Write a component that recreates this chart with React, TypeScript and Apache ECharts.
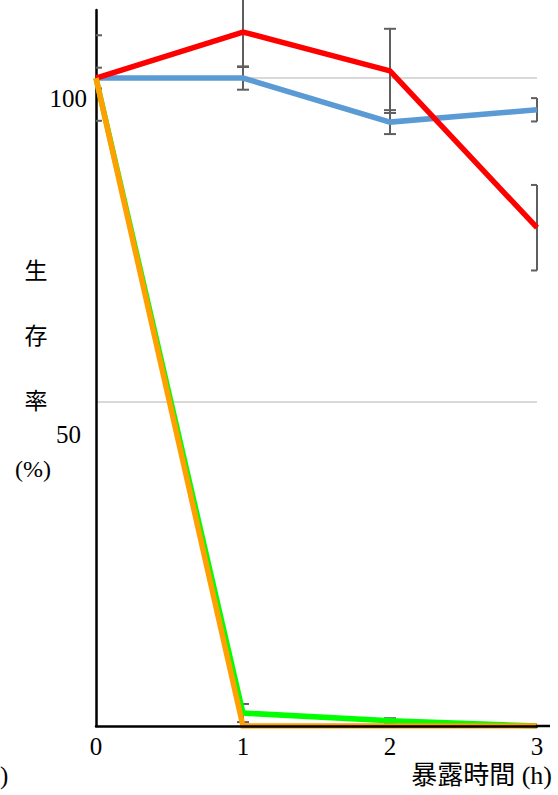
import React, { useEffect, useRef } from "react";
import * as echarts from "echarts";

const hours = [0, 1, 2, 3];
const xTickLabels = ["0", "1", "2", "3"];
const yTickLabels = [50, 100];

const redValues = [100, 107.1, 101.1, 76.9];
const redErr = [6.6, 5.4, 6.5, 6.6];
const blueValues = [100, 100, 93.2, 95.1];
const blueErr = [1.6, 1.8, 1.85, 1.8];
const greenValues = [100, 2.0, 0.8, 0];
const greenErr = [0, 1.4, 0.4, 0];
const orangeValues = [100, 0, 0, 0];

const SERIF = "Liberation Serif, Noto Sans CJK JP, serif";

function pairs(vals: number[]) {
  return hours.map((h, i) => [h, vals[i]]);
}
function errs(vals: number[], e: number[]) {
  return hours
    .map((h, i) => [h, vals[i] - e[i], vals[i] + e[i]])
    .filter((d, i) => e[i] > 0);
}

export default function App() {
  const ref = useRef<HTMLDivElement>(null);
  useEffect(() => {
    if (!ref.current) return;
    const chart = echarts.init(ref.current, undefined, { renderer: "svg" });
    const errorData = [
      ...errs(redValues, redErr),
      ...errs(blueValues, blueErr),
      ...errs(greenValues, greenErr),
    ];
    const lineSeries = (name: string, vals: number[], color: string, z: number) => ({
      name,
      type: "line",
      data: pairs(vals),
      symbol: "none",
      z,
      lineStyle: { color, width: 5.5, cap: "butt", join: "miter" },
      itemStyle: { color },
    });
    chart.setOption({
      animation: false,
      backgroundColor: "#ffffff",
      grid: { left: 96, right: 21, top: 10, bottom: 69, containLabel: false },
      xAxis: {
        type: "value",
        min: 0,
        max: 3,
        interval: 1,
        z: 10,
        axisLine: { show: true, lineStyle: { color: "#000", width: 2.5 } },
        axisTick: { show: false },
        splitLine: { show: false },
        axisLabel: {
          margin: 8,
          fontSize: 25,
          fontFamily: SERIF,
          color: "#000",
          formatter: (v: number) => xTickLabels[hours.indexOf(v)] ?? "",
        },
      },
      yAxis: {
        type: "value",
        min: 0,
        max: 110.5,
        interval: 50,
        axisLine: { show: true, onZero: false, lineStyle: { color: "#000", width: 2.5 } },
        axisTick: { show: false },
        splitLine: {
          show: true,
          showMinLine: false,
          showMaxLine: false,
          lineStyle: { color: "#d9d9d9", width: 2 },
        },
        axisLabel: {
          margin: 9,
          color: "#000",
          fontFamily: SERIF,
          fontSize: 25,
          formatter: (v: number) =>
            v === yTickLabels[1] ? "{a|" + v + "}" : v === yTickLabels[0] ? "{b|" + v + "}" : "",
          rich: {
            a: { fontSize: 25, fontFamily: SERIF, color: "#000", padding: [40, 0, 0, 0] },
            b: { fontSize: 25, fontFamily: SERIF, color: "#000", padding: [64, 6, 0, 0] },
          },
        },
      },
      graphic: [
        {
          type: "text",
          x: 36,
          y: 238.5,
          style: {
            text: "生\n存\n率",
            fill: "#000",
            fontSize: 23,
            fontFamily: SERIF,
            textAlign: "center",
            textVerticalAlign: "top",
            lineHeight: 65,
          },
        },
        {
          type: "text",
          x: 33,
          y: 469,
          style: {
            text: "(%)",
            fill: "#000",
            fontSize: 24,
            fontFamily: SERIF,
            textAlign: "center",
            textVerticalAlign: "middle",
          },
        },
        {
          type: "text",
          x: 552,
          y: 775,
          style: {
            text: "暴露時間 (h)",
            fill: "#000",
            fontSize: 26,
            fontFamily: SERIF,
            textAlign: "right",
            textVerticalAlign: "middle",
          },
        },
        {
          type: "text",
          x: 0,
          y: 775,
          style: {
            text: ")",
            fill: "#000",
            fontSize: 25,
            fontFamily: SERIF,
            textAlign: "left",
            textVerticalAlign: "middle",
          },
        },
        {
          type: "line",
          shape: { x1: 536, y1: 726, x2: 550, y2: 726 },
          style: { stroke: "#000", lineWidth: 2.5 },
          z: 20,
        },
      ],
      series: [
        {
          name: "errorBars",
          type: "custom",
          z: 1,
          data: errorData,
          encode: { x: 0, y: [1, 2] },
          renderItem: (params: any, api: any) => {
            const x = api.value(0);
            const lo = api.value(1);
            const hi = api.value(2);
            const pHi = api.coord([x, hi]);
            const pLo = api.coord([x, lo]);
            const atStart = x <= hours[0];
            const hl = atStart ? 0 : 6;
            const hr = x < hours[hours.length - 1] ? 6 : 0;
            const style = { stroke: "#5f5f5f", lineWidth: 2, fill: "none" };
            const children: any[] = [
              { type: "line", shape: { x1: pHi[0] - hl, y1: pHi[1], x2: pHi[0] + hr, y2: pHi[1] }, style },
              { type: "line", shape: { x1: pLo[0] - hl, y1: pLo[1], x2: pLo[0] + hr, y2: pLo[1] }, style },
            ];
            if (!atStart) {
              children.push({
                type: "line",
                shape: { x1: pHi[0], y1: pHi[1], x2: pLo[0], y2: pLo[1] },
                style,
              });
            }
            return { type: "group", children };
          },
        },
        lineSeries("blue", blueValues, "#5b9bd5", 2),
        lineSeries("red", redValues, "#ff0000", 3),
        lineSeries("green", greenValues, "#00ff00", 4),
        lineSeries("orange", orangeValues, "#ff9f00", 5),
      ],
    });
    return () => chart.dispose();
  }, []);
  return (
    <div
      ref={ref}
      style={{ position: "fixed", left: 0, top: 0, width: 558, height: 795, background: "#fff" }}
    />
  );
}
